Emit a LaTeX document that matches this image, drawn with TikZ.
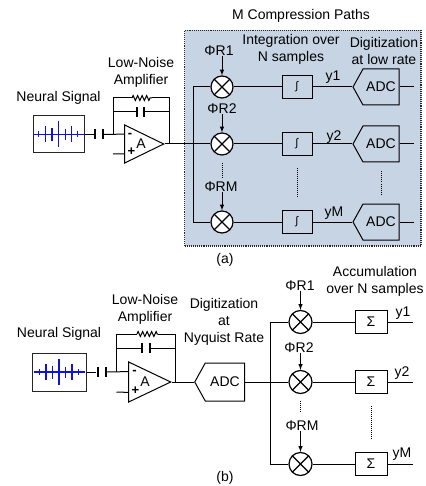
\documentclass[tikz,border=0pt]{standalone}
\usepackage{fontspec}
\setmainfont{Liberation Sans}
\usetikzlibrary{positioning,calc,shapes.geometric,shapes.symbols,decorations.pathmorphing}

\definecolor{panelblue}{HTML}{C6D4E4}
\definecolor{spikeblue}{HTML}{1010E0}

\tikzset{
  neural/.pic={
    \draw[spikeblue, line width=1.1pt] (-25.5,0) -- (25.5,0);
    \foreach \sx/\sh in {-19.7/3,-13/8,-6.5/6.5,0/13,6.8/5.5,13/8,19.3/3}
      \draw[spikeblue, line width=1.1pt] (\sx,-\sh) -- (\sx,\sh);
  }
}

\begin{document}
\begin{tikzpicture}[
    x=1pt, y=-1pt, on grid,
    every node/.style={font=\fontsize{14}{17}\selectfont, align=center, inner sep=0pt, text=black},
    wire/.style={line width=1pt},
    arr/.style={-latex, line width=1pt},
    dots/.style={densely dotted, line width=1pt},
    sigbox/.style={draw=black!85, line width=1pt, minimum width=51pt, minimum height=37pt},
    plate/.style={fill=black, minimum width=2pt, minimum height=10pt},
    opamp/.style={draw, isosceles triangle, isosceles triangle stretches, shape border rotate=0,
                  line width=1pt, minimum height=39pt, minimum width=38pt},
    mixer/.style={draw, circle, fill=white, line width=1.2pt, minimum size=22pt,
                  path picture={\draw[line width=1.2pt] (path picture bounding box.south west) -- (path picture bounding box.north east)
                     (path picture bounding box.north west) -- (path picture bounding box.south east);}},
    intbox/.style={draw, line width=1pt, minimum width=30pt, minimum height=23.5pt},
    intsym/.style={font=\fontsize{11}{11}\selectfont},
    adc/.style={draw, signal, signal to=west, signal pointer angle=122, line width=1pt,
                minimum width=46pt, minimum height=36pt},
    panel/.style={draw=black!85, densely dotted, line width=1.1pt, fill=panelblue, minimum width=236.5pt, minimum height=215.5pt},
    sign/.style={font=\fontsize{13}{13}\bfseries\selectfont},
  ]
  \useasboundingbox (0,0) rectangle (425,486);

  % Part (a): panel
  \node[panel] (panel) at (302.75,138.25) {};
  \node at (301,16) (title) {M Compression Paths};
  \node at (225,260) (capa) {(a)};

  % Part (a): front end
  \node[sigbox] (sig) at (58.5,134.5) {};
  \pic at (sig.center) {neural};
  \node[above=36.5pt of sig] (siglabel) {Neural Signal};
  \node[plate] (ca) at (95,134.5) {};
  \node[plate, right=8pt of ca] (cb) {};
  \node[opamp, anchor=apex] (amp) at (165,144) {};
  \node at (141,144) (ampa) {A};
  \coordinate (inm) at ($(amp.left corner)!0.25!(amp.right corner)$);
  \coordinate (inp) at ($(amp.left corner)!0.75!(amp.right corner)$);
  \coordinate (jn) at (113,134.5);
  \coordinate (gnd) at (113,154);
  \coordinate (fbl) at (113,98);
  \coordinate (fbr) at (169,98);
  \coordinate (fbo) at (169,144);
  \coordinate (ra) at (132,98);
  \coordinate (rb) at (152,98);
  \coordinate (cl) at (113,112);
  \coordinate (cr) at (169,112);
  \node[plate] (fa) at (137,112) {};
  \node[plate, right=7pt of fa] (fb) {};
  \node[sign] at (130,135) (minus) {-};
  \node[sign] at (131.5,152) (plus) {+};
  \node at (141,72.5) (lna) {Low-Noise\\Amplifier};

  \draw[wire] (sig.east) -- (ca);
  \draw[wire] (cb) -- (inm);
  \draw[wire] (gnd) -- (inp);
  \draw[wire] (jn) -- (fbl) -- (ra);
  \draw[wire, decorate, decoration={zigzag, amplitude=2.5pt, segment length=4.5pt}] (ra) -- (rb);
  \draw[wire] (rb) -- (fbr) -- (fbo);
  \draw[wire] (cl) -- (fa);
  \draw[wire] (fb) -- (cr);

  % Part (a): compression paths
  \node[mixer] (m1) at (222,87) {};
  \node[mixer, below=57pt of m1] (m2) {};
  \node[mixer, below=78pt of m2] (m3) {};
  \node[intbox, intsym, right=75pt of m1] (i1) {∫};
  \node[intbox, intsym, right=75pt of m2] (i2) {∫};
  \node[intbox, intsym, right=75pt of m3] (i3) {∫};
  \node[adc, right=159pt of m1] (a1) {ADC};
  \node[adc, right=159pt of m2] (a2) {ADC};
  \node[adc, right=159pt of m3] (a3) {ADC};
  \node at (219,51) (pr1) {ΦR1};
  \node at (222,109) (pr2) {ΦR2};
  \node at (221,187) (prm) {ΦRM};
  \node at (333,77) (y1) {y1};
  \node at (334,137) (y2) {y2};
  \node at (334,213) (ym) {yM};
  \node at (291,49.5) (intlabel) {Integration over\\N samples};
  \node at (384,50.5) (diglabel) {Digitization\\at low rate};

  \coordinate (bus1) at (193.5,87);
  \coordinate (bus3) at (193.5,222);
  \coordinate (o1) at (414,87);
  \coordinate (o2) at (414,144);
  \coordinate (o3) at (414,222);

  \draw[wire] (amp.apex) -- (m2);
  \draw[wire] (m1) -- (bus1) -- (bus3) -- (m3);
  \foreach \row in {1,2,3} {
    \draw[wire] (m\row) -- (i\row);
    \draw[wire] (i\row) -- (a\row.west);
    \draw[wire] (a\row.east) -- (o\row);
  }
  \draw[arr] (m1 |- pr1.south) -- (m1);
  \draw[arr] (m2 |- pr2.south) -- (m2);
  \draw[arr] (m3 |- prm.south) -- (m3);
  \draw[dots, shorten <=7pt, shorten >=4pt] (m2.south) -- (m2 |- prm.north);
  \draw[dots, shorten <=12pt, shorten >=13pt] (i2.south) -- (i3.north);
  \draw[dots, shorten <=9pt, shorten >=9pt] (a2.south) -- (a3.north);

  % Part (b): front end
  \node[sigbox, minimum width=54pt, minimum height=38pt] (sigb) at (59,372) {};
  \pic at (sigb.center) {neural};
  \node[above=38pt of sigb] (siglabelb) {Neural Signal};
  \node[plate] (cc) at (97.5,372) {};
  \node[plate, right=8pt of cc] (cd) {};
  \node[opamp, minimum height=42pt, minimum width=40pt, anchor=apex] (ampb) at (172,382) {};
  \node at (145,382) (ampc) {A};
  \coordinate (inmb) at ($(ampb.left corner)!0.25!(ampb.right corner)$);
  \coordinate (inpb) at ($(ampb.left corner)!0.75!(ampb.right corner)$);
  \coordinate (jnb) at (116.5,372);
  \coordinate (gndb) at (116.5,392);
  \coordinate (fblb) at (116.5,334);
  \coordinate (fbrb) at (175.5,334);
  \coordinate (fbob) at (175.5,382);
  \coordinate (rc) at (137,334);
  \coordinate (rd) at (158,334);
  \coordinate (clb) at (116.5,348);
  \coordinate (crb) at (175.5,348);
  \node[plate] (fc) at (142,348) {};
  \node[plate, right=8pt of fc] (fd) {};
  \node[sign] at (134.5,372) (minusb) {-};
  \node[sign] at (135.5,391) (plusb) {+};
  \node at (145,309) (lnab) {Low-Noise\\Amplifier};
  \node[adc, minimum width=50pt, minimum height=38pt] (adcb) at (225,382) {ADC};
  \node at (224,322) (diglabelb) {Digitization\\at\\Nyquist Rate};

  \draw[wire] (sigb.east) -- (cc);
  \draw[wire] (cd) -- (inmb);
  \draw[wire] (gndb) -- (inpb);
  \draw[wire] (jnb) -- (fblb) -- (rc);
  \draw[wire, decorate, decoration={zigzag, amplitude=2.5pt, segment length=4.5pt}] (rc) -- (rd);
  \draw[wire] (rd) -- (fbrb) -- (fbob);
  \draw[wire] (clb) -- (fc);
  \draw[wire] (fd) -- (crb);
  \draw[wire] (ampb.apex) -- (adcb.west);

  % Part (b): accumulation paths
  \node[mixer, minimum size=23pt] (n1) at (300.5,322) {};
  \node[mixer, minimum size=23pt, below=60pt of n1] (n2) {};
  \node[mixer, minimum size=23pt, below=82pt of n2] (n3) {};
  \node[intbox, minimum width=32pt, right=70.5pt of n1] (s1) {Σ};
  \node[intbox, minimum width=32pt, right=70.5pt of n2] (s2) {Σ};
  \node[intbox, minimum width=32pt, right=70.5pt of n3] (s3) {Σ};
  \node at (300,286) (qr1) {ΦR1};
  \node at (299,348) (qr2) {ΦR2};
  \node at (302,426) (qrm) {ΦRM};
  \node at (403,313) (z1) {y1};
  \node at (402,373) (z2) {y2};
  \node at (402,454) (zm) {yM};
  \node at (375,281.5) (acclabel) {Accumulation\\over N samples};
  \node at (225,478) (capb) {(b)};

  \coordinate (busb1) at (270,322);
  \coordinate (busb3) at (270,464);
  \coordinate (p1) at (413,322);
  \coordinate (p2) at (413,382);
  \coordinate (p3) at (413,464);

  \draw[wire] (adcb.east) -- (n2);
  \draw[wire] (n1) -- (busb1) -- (busb3) -- (n3);
  \foreach \row in {1,2,3} {
    \draw[wire] (n\row) -- (s\row);
    \draw[wire] (s\row) -- (p\row);
  }
  \draw[arr] (n1 |- qr1.south) -- (n1);
  \draw[arr] (n2 |- qr2.south) -- (n2);
  \draw[arr] (n3 |- qrm.south) -- (n3);
  \draw[dots, shorten <=7pt, shorten >=9pt] (n2.south) -- (n2 |- qrm.north);
  \draw[dots, shorten <=12pt, shorten >=13pt] (s2.south) -- (s3.north);

\end{tikzpicture}
\end{document}
